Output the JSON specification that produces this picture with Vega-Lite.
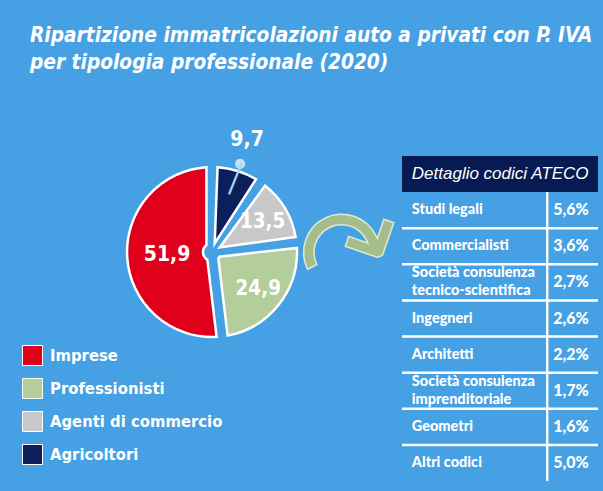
{
  "$schema": "https://vega.github.io/schema/vega-lite/v6.json",
  "background": "#46a0e4",
  "padding": {"left": 22, "top": 25, "right": 5, "bottom": 13},
  "bounds": "flush",
  "config": {
    "locale": {"number": {"decimal": ",", "thousands": ".", "grouping": [3], "currency": ["€", ""]}},
    "view": {"stroke": null},
    "font": "DejaVu Sans Condensed, DejaVu Sans, sans-serif"
  },
  "title": {
    "text": ["Ripartizione immatricolazioni auto a privati con P. IVA", "per tipologia professionale (2020)"],
    "anchor": "start",
    "dx": 8,
    "font": "DejaVu Sans Condensed, DejaVu Sans, sans-serif",
    "fontSize": 20.7,
    "fontStyle": "italic",
    "fontWeight": "bold",
    "color": "white",
    "lineHeight": 27,
    "offset": 49
  },
  "spacing": 0,
  "hconcat": [
    {
      "width": 380,
      "height": 258,
      "data": {"values": [
        {"categoria": "Imprese", "quota": 51.9},
        {"categoria": "Professionisti", "quota": 24.9},
        {"categoria": "Agenti di commercio", "quota": 13.5},
        {"categoria": "Agricoltori", "quota": 9.7}
      ]},
      "encoding": {
        "theta": {"field": "quota", "type": "quantitative", "stack": true},
        "order": {"field": "quota", "type": "quantitative", "sort": "ascending"}
      },
      "layer": [
        {
          "mark": {"type": "arc", "outerRadius": 85, "innerRadius": 9, "padAngle": 0.13, "stroke": "white", "strokeWidth": 2.5, "opacity": 1},
          "encoding": {
            "color": {
              "field": "categoria",
              "type": "nominal",
              "scale": {
                "domain": ["Imprese", "Professionisti", "Agenti di commercio", "Agricoltori"],
                "range": ["#e0001b", "#b3cd9b", "#c9c8c8", "#0b1f5b"]
              },
              "legend": {
                "title": null,
                "orient": "none",
                "legendX": 0,
                "legendY": 222,
                "padding": 0,
                "symbolType": "square",
                "symbolSize": 400,
                "symbolStrokeColor": "white",
                "symbolStrokeWidth": 1,
                "symbolOpacity": 1,
                "labelColor": "white",
                "labelFont": "DejaVu Sans Condensed, DejaVu Sans, sans-serif",
                "labelFontSize": 16.5,
                "labelFontWeight": "bold",
                "labelOffset": 7,
                "rowPadding": 8,
                "labelLimit": 300
              }
            }
          }
        },
        {
          "mark": {"type": "text", "radius": 45, "fontSize": 21, "fontWeight": "bold", "baseline": "middle", "align": "center"},
          "encoding": {
            "text": {"field": "quota", "type": "quantitative", "format": ".1f"},
            "color": {"value": "white"},
            "opacity": {"condition": {"test": "datum.categoria === 'Imprese'", "value": 1}, "value": 0}
          }
        },
        {
          "mark": {"type": "text", "radius": 59, "fontSize": 20.5, "fontWeight": "bold", "baseline": "middle", "align": "center"},
          "encoding": {
            "text": {"field": "quota", "type": "quantitative", "format": ".1f"},
            "color": {"value": "white"},
            "opacity": {"condition": {"test": "datum.categoria === 'Professionisti' || datum.categoria === 'Agenti di commercio'", "value": 1}, "value": 0}
          }
        },
        {
          "mark": {"type": "text", "radius": 117, "fontSize": 21, "fontWeight": "bold", "baseline": "middle", "align": "center"},
          "encoding": {
            "text": {"field": "quota", "type": "quantitative", "format": ".1f"},
            "color": {"value": "white"},
            "opacity": {"condition": {"test": "datum.categoria === 'Agricoltori'", "value": 1}, "value": 0}
          }
        },
        {
          "mark": {"type": "text", "radius": 93, "fontSize": 13, "baseline": "middle", "align": "center", "font": "DejaVu Sans", "text": "●"},
          "encoding": {
            "color": {"value": "#c4e2f7"},
            "opacity": {"condition": {"test": "datum.categoria === 'Agricoltori'", "value": 1}, "value": 0}
          }
        },
        {
          "mark": {"type": "text", "radius": 75, "fontSize": 28, "baseline": "middle", "align": "center", "font": "DejaVu Sans", "text": "│", "angle": 22},
          "encoding": {
            "color": {"value": "#a9d3f2"},
            "opacity": {"condition": {"test": "datum.categoria === 'Agricoltori'", "value": 1}, "value": 0}
          }
        }
      ]
    },
    {
      "width": 196,
      "height": 358,
      "data": {"values": [
        {"voce": "Studi legali", "quota": 0.056},
        {"voce": "Commercialisti", "quota": 0.036},
        {"voce": "Società consulenza\ntecnico-scientifica", "quota": 0.027},
        {"voce": "Ingegneri", "quota": 0.026},
        {"voce": "Architetti", "quota": 0.022},
        {"voce": "Società consulenza\nimprenditoriale", "quota": 0.017},
        {"voce": "Geometri", "quota": 0.016},
        {"voce": "Altri codici", "quota": 0.05}
      ]},
      "encoding": {
        "y": {
          "field": "voce",
          "type": "nominal",
          "axis": null,
          "scale": {
            "domain": ["Dettaglio codici ATECO", "Studi legali", "Commercialisti", "Società consulenza\ntecnico-scientifica", "Ingegneri", "Architetti", "Società consulenza\nimprenditoriale", "Geometri", "Altri codici"],
            "range": [33, 358],
            "paddingInner": 0,
            "paddingOuter": 0
          }
        }
      },
      "layer": [
        {
          "data": {"values": [{"voce": "Dettaglio codici ATECO"}]},
          "mark": {"type": "rect", "color": "#081a52"},
          "encoding": {
            "x": {"datum": 0, "type": "quantitative", "scale": {"domain": [0, 1], "nice": false, "zero": false}, "axis": null},
            "x2": {"datum": 1}
          }
        },
        {
          "data": {"values": [{"voce": "Dettaglio codici ATECO"}]},
          "mark": {"type": "text", "align": "left", "baseline": "middle", "font": "Liberation Sans, Arial, sans-serif", "fontSize": 17, "fontStyle": "italic", "color": "white"},
          "encoding": {
            "x": {"datum": 0.05, "type": "quantitative"},
            "text": {"field": "voce"}
          }
        },
        {
          "mark": {"type": "rect", "color": "white"},
          "encoding": {
            "x": {"datum": 0.735, "type": "quantitative"},
            "x2": {"datum": 0.747}
          }
        },
        {
          "transform": [{"filter": "datum.voce !== 'Altri codici'"}],
          "mark": {"type": "rule", "color": "white", "strokeWidth": 2.5},
          "encoding": {
            "y": {"field": "voce", "type": "nominal", "bandPosition": 1},
            "x": {"datum": 0, "type": "quantitative"},
            "x2": {"datum": 1}
          }
        },
        {
          "transform": [{"filter": "indexof(datum.voce, '\\n') < 0"}],
          "mark": {"type": "text", "align": "left", "baseline": "middle", "font": "Lato, DejaVu Sans Condensed, sans-serif", "fontSize": 14.5, "fontWeight": 900, "color": "white"},
          "encoding": {
            "x": {"datum": 0.05, "type": "quantitative"},
            "text": {"field": "voce"}
          }
        },
        {
          "transform": [{"filter": "indexof(datum.voce, '\\n') >= 0"}],
          "mark": {"type": "text", "align": "left", "baseline": "middle", "font": "Lato, DejaVu Sans Condensed, sans-serif", "fontSize": 14.5, "fontWeight": 900, "color": "white", "lineBreak": "\n", "lineHeight": 18, "dy": -9},
          "encoding": {
            "x": {"datum": 0.05, "type": "quantitative"},
            "text": {"field": "voce"}
          }
        },
        {
          "mark": {"type": "text", "align": "center", "baseline": "middle", "font": "Lato, DejaVu Sans Condensed, sans-serif", "fontSize": 16, "fontWeight": 900, "color": "white"},
          "encoding": {
            "x": {"datum": 0.862, "type": "quantitative"},
            "text": {"field": "quota", "type": "quantitative", "format": ".1%"}
          }
        },
        {
          "data": {"values": [{"simbolo": "↷"}]},
          "mark": {"type": "text", "align": "center", "baseline": "middle", "font": "DejaVu Sans", "fontSize": 126, "angle": -26, "color": "#a6bd8b", "stroke": "#dce9cf", "strokeWidth": 1.5},
          "encoding": {
            "x": {"datum": -0.245, "type": "quantitative"},
            "y": {"datum": "Commercialisti", "type": "nominal", "bandPosition": 0.75},
            "text": {"field": "simbolo"}
          }
        }
      ]
    }
  ]
}
